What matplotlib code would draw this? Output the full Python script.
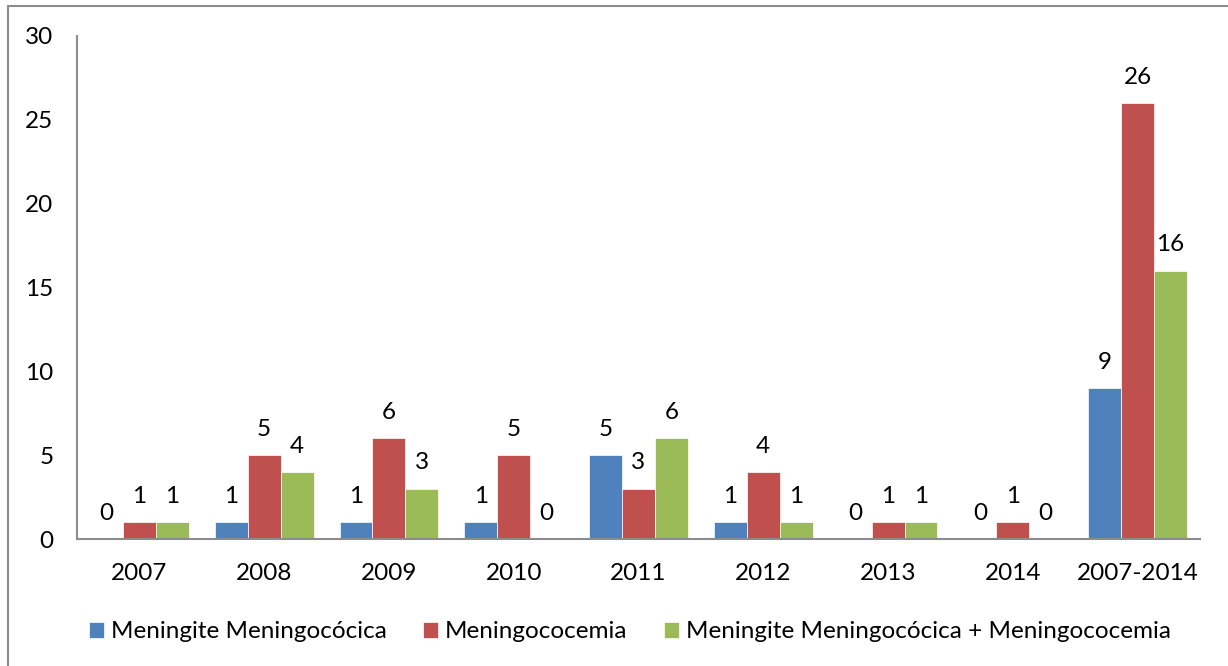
import numpy as np
import matplotlib.pyplot as plt
from matplotlib.patches import Rectangle

plt.rcParams['font.family'] = ['Lato', 'DejaVu Sans']

# Dados
anos = ['2007', '2008', '2009', '2010', '2011', '2012', '2013', '2014', '2007-2014']
meningite = [0, 1, 1, 1, 5, 1, 0, 0, 9]
meningococcemia = [1, 5, 6, 5, 3, 4, 1, 1, 26]
ambas = [1, 4, 3, 0, 6, 1, 1, 0, 16]

series = [
    ('Meningite Meningocócica', meningite, '#4F81BD'),
    ('Meningococemia', meningococcemia, '#C0504D'),
    ('Meningite Meningocócica + Meningococemia', ambas, '#9BBB59'),
]

fig = plt.figure(figsize=(12.28, 6.66), dpi=100)
ax = fig.add_axes([77 / 1228, 1 - 539 / 666, (1200 - 77) / 1228, (539 - 36) / 666])

# Moldura cinza do gráfico
fig.patches.append(Rectangle((8 / 1228, -0.2), 1.2, 1 - 6 / 666 + 0.2,
                             transform=fig.transFigure, fill=False,
                             edgecolor='#8c8c8c', linewidth=1.5))

x = np.arange(len(anos))
w = 0.264
for i, (nome, vals, cor) in enumerate(series):
    pos = x + (i - 1) * w
    ax.bar(pos, vals, width=w, color=cor, label=nome,
           edgecolor='white', linewidth=0.5)
    for p, v in zip(pos, vals):
        ax.annotate(str(v), (p, v), xytext=(0, 11), textcoords='offset points',
                    ha='center', va='bottom', fontsize=17.5, color='black')

ax.set_xlim(-0.5, len(anos) - 0.5)
ax.set_ylim(0, 30)
ax.set_yticks(range(0, 31, 5))
ax.set_xticks(x)
ax.set_xticklabels(anos)

for s in ['top', 'right']:
    ax.spines[s].set_visible(False)
for s in ['left', 'bottom']:
    ax.spines[s].set_color('#8c8c8c')
    ax.spines[s].set_linewidth(1.5)

ax.tick_params(axis='y', length=0, pad=17, labelsize=17.5)
ax.tick_params(axis='x', length=0, pad=17, labelsize=17.5)

ax.legend(loc='center', bbox_to_anchor=(630 / 1228, 1 - 632 / 666),
          bbox_transform=fig.transFigure, ncol=3, frameon=False,
          fontsize=17.5, handlelength=0.6, handleheight=0.6,
          handletextpad=0.3, columnspacing=1.5)

fig.savefig('out.png', dpi=100)
plt.close(fig)
